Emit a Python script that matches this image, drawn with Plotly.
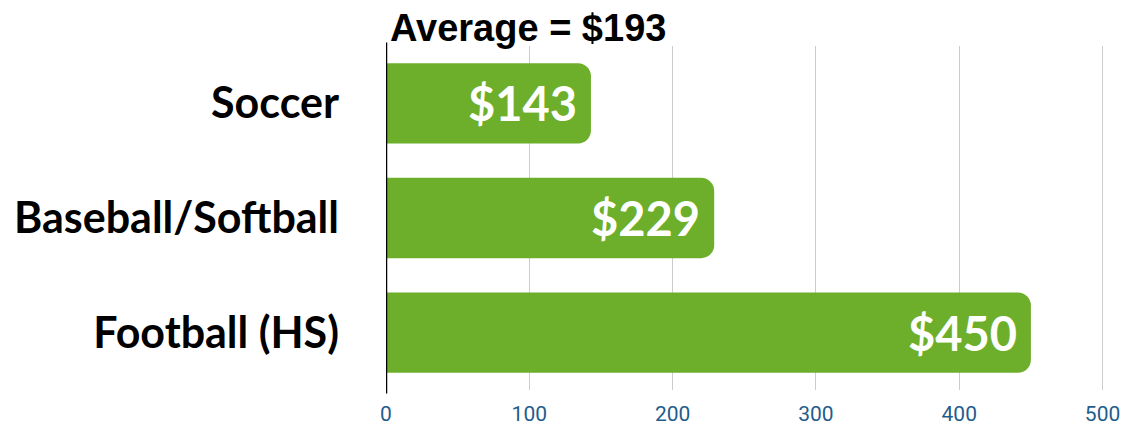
import plotly.graph_objects as go

# Average annual cost per sport
sports = ["Soccer", "Baseball/Softball", "Football (HS)"]
costs = [143, 229, 450]
average_cost = 193
x_ticks = [0, 100, 200, 300, 400, 500]

GREEN = "#6daf2a"
TICK_BLUE = "#1f5d8c"

fig = go.Figure(
    go.Bar(
        x=costs,
        y=sports,
        orientation="h",
        marker=dict(color=GREEN, cornerradius=13, line=dict(width=0)),
        width=0.7,
        hoverinfo="skip",
    )
)

# Value labels inside the bar ends
for sport, cost in zip(sports, costs):
    fig.add_annotation(
        x=cost, y=sport, xref="x", yref="y",
        text=f"<b>${cost}</b>", showarrow=False,
        xanchor="right", yanchor="middle", xshift=-12,
        font=dict(family="Lato", size=47, color="white"),
    )

fig.add_annotation(
    x=0, y=1, xref="paper", yref="paper",
    text=f"<b>Average = ${average_cost}</b>", showarrow=False,
    xanchor="left", yanchor="bottom", xshift=2, yshift=-5,
    font=dict(family="Liberation Sans", size=38, color="black"),
)

fig.update_layout(
    width=1127, height=425,
    margin=dict(l=386, r=23, t=46, b=35, autoexpand=False),
    paper_bgcolor="white", plot_bgcolor="white",
    showlegend=False,
    xaxis=dict(
        range=[0, 501], tickvals=x_ticks, ticktext=[str(t) for t in x_ticks],
        showgrid=True, gridcolor="#cccccc", gridwidth=1,
        zeroline=False, showline=False, automargin=False,
        tickfont=dict(family="Roboto", size=21, color=TICK_BLUE),
        ticks="", ticklabelstandoff=9,
    ),
    yaxis=dict(
        autorange="reversed", showgrid=False, zeroline=False,
        showline=False, automargin=False,
        tickfont=dict(family="Lato", size=43, color="black", weight="bold"),
        ticks="", ticklabelstandoff=46,
    ),
    shapes=[dict(type="line", xref="x", yref="paper", x0=0, x1=0, y0=-0.01, y1=1.01,
                 line=dict(color="black", width=2.5))],
)

fig.write_html("out.html")
